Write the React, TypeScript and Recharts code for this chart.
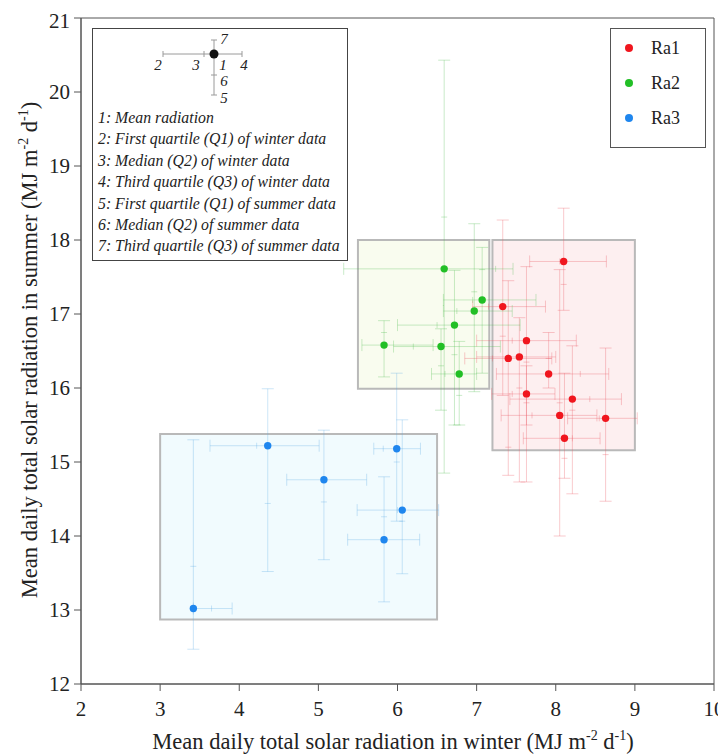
import { ScatterChart, Scatter, XAxis, YAxis, ErrorBar, ReferenceArea } from 'recharts'

// rows: [meanWinter, meanSummer, winterQ1, winterQ2, winterQ3, summerQ1, summerQ2, summerQ3]
const ra1Rows = [
  [8.10, 17.71, 7.67, 8.05, 8.64, 17.05, 17.40, 18.43],
  [7.33, 17.10, 6.95, 7.15, 7.87, 15.90, 16.70, 18.27],
  [7.63, 16.64, 7.00, 7.45, 8.26, 14.73, 16.35, 17.64],
  [7.40, 16.40, 6.85, 7.20, 7.95, 14.82, 15.20, 17.45],
  [7.54, 16.42, 7.00, 7.40, 8.00, 14.73, 16.00, 16.95],
  [7.91, 16.19, 7.25, 8.31, 8.67, 16.00, 16.40, 16.75],
  [7.63, 15.92, 7.19, 7.45, 7.99, 15.50, 15.80, 16.30],
  [8.21, 15.85, 7.42, 8.43, 8.83, 14.57, 15.70, 16.57],
  [8.05, 15.63, 7.31, 7.70, 8.52, 14.00, 15.80, 17.60],
  [8.63, 15.59, 8.15, 8.55, 9.03, 14.47, 15.10, 16.54],
  [8.11, 15.32, 7.59, 8.21, 8.56, 14.78, 15.05, 16.20],
]
const ra2Rows = [
  [6.59, 17.61, 5.32, 7.24, 7.46, 14.85, 18.31, 20.43],
  [7.07, 17.19, 6.58, 6.95, 7.75, 16.20, 17.60, 17.90],
  [6.97, 17.04, 6.58, 6.75, 7.45, 15.95, 17.30, 18.22],
  [6.72, 16.85, 6.00, 6.50, 7.55, 15.50, 16.45, 17.59],
  [5.83, 16.58, 5.55, 5.82, 6.45, 16.15, 16.75, 16.91],
  [6.55, 16.56, 5.95, 6.20, 7.30, 15.70, 16.30, 16.80],
  [6.78, 16.19, 6.43, 6.60, 7.00, 15.50, 15.90, 16.63],
]
const ra3Rows = [
  [3.42, 13.02, 3.42, 3.65, 3.91, 12.47, 13.59, 15.30],
  [4.36, 15.22, 3.63, 4.22, 5.01, 13.52, 14.44, 15.99],
  [5.07, 14.76, 4.60, 5.05, 5.61, 13.68, 14.46, 15.43],
  [5.99, 15.18, 5.70, 5.82, 6.29, 14.20, 15.00, 16.20],
  [6.06, 14.35, 5.49, 6.00, 6.52, 13.49, 14.20, 15.57],
  [5.83, 13.95, 5.37, 5.80, 6.28, 13.11, 14.26, 14.80],
]

const seriesNames = ['Ra1', 'Ra2', 'Ra3']
const dotColors = ['#f0161e', '#22bf26', '#1f86ee']
const barColors = ['rgba(236,90,100,0.32)', 'rgba(80,190,80,0.3)', 'rgba(90,170,230,0.3)']

// cluster boxes: [x1, x2, y1, y2]
const boxes = [
  [7.2, 9.0, 15.16, 18.0],
  [5.5, 7.16, 15.99, 18.0],
  [3.0, 6.5, 12.87, 15.38],
]
const boxFills = ['#fdeff0', '#f9fcef', '#f1fbfe']

const xTicks = [2, 3, 4, 5, 6, 7, 8, 9, 10]
const yTicks = [12, 13, 14, 15, 16, 17, 18, 19, 20, 21]

const keyLines = [
  '1: Mean radiation',
  '2: First quartile (Q1) of winter data',
  '3: Median (Q2) of winter data',
  '4: Third quartile (Q3) of winter data',
  '5: First quartile (Q1) of summer data',
  '6: Median (Q2) of summer data',
  '7: Third quartile (Q3) of summer data',
]

const FONT = 'Liberation Serif, serif'

const allRows = [ra1Rows, ra2Rows, ra3Rows]

const points = (rows: number[][]) =>
  rows.map(([mx, my, w1, , w3, s1, , s3]) => ({
    x: mx, y: my, ex: [mx - w1, w3 - mx], ey: [my - s1, s3 - my],
  }))
const winterMedians = (rows: number[][]) => rows.map((r) => ({ x: r[3], y: r[1] }))
const summerMedians = (rows: number[][]) => rows.map((r) => ({ x: r[0], y: r[6] }))

const tickStyle = { fontSize: 21, fill: '#222', fontFamily: FONT }

function KeyBox() {
  const g = '#9a9a9a'
  const num = { fontSize: 15, fontStyle: 'italic', fontFamily: FONT, fill: '#222' } as const
  return (
    <div style={{
      position: 'absolute', left: 84, top: 20, width: 254, height: 231,
      border: '1px solid #444', background: '#fff', fontFamily: FONT,
    }}>
      <svg width={254} height={80} style={{ position: 'absolute', left: 0, top: 0 }}>
        <line x1={70} x2={149} y1={25} y2={25} stroke={g} />
        <line x1={70} x2={70} y1={22} y2={28} stroke={g} />
        <line x1={149} x2={149} y1={22} y2={28} stroke={g} />
        <line x1={111} x2={111} y1={22} y2={28} stroke={g} />
        <line x1={121} x2={121} y1={11} y2={66} stroke={g} />
        <line x1={118} x2={124} y1={11} y2={11} stroke={g} />
        <line x1={118} x2={124} y1={66} y2={66} stroke={g} />
        <line x1={118} x2={124} y1={46} y2={46} stroke={g} />
        <circle cx={121} cy={25} r={4.5} fill="#111" />
        <text x={131} y={15} textAnchor="middle" {...num}>7</text>
        <text x={65} y={41} textAnchor="middle" {...num}>2</text>
        <text x={103} y={41} textAnchor="middle" {...num}>3</text>
        <text x={130} y={41} textAnchor="middle" {...num}>1</text>
        <text x={151} y={41} textAnchor="middle" {...num}>4</text>
        <text x={131} y={57} textAnchor="middle" {...num}>6</text>
        <text x={131} y={74} textAnchor="middle" {...num}>5</text>
      </svg>
      {keyLines.map((t, i) => (
        <div key={i} style={{
          position: 'absolute', left: 5, top: 80 + i * 21.4, fontSize: 15.8,
          fontStyle: 'italic', color: '#222', whiteSpace: 'nowrap', lineHeight: '18px',
        }}>{t}</div>
      ))}
    </div>
  )
}

function LegendBox() {
  return (
    <div style={{
      position: 'absolute', left: 602, top: 20, width: 94, height: 118,
      border: '1px solid #555', background: '#fff', fontFamily: FONT,
    }}>
      {seriesNames.map((n, i) => (
        <div key={n} style={{ position: 'absolute', left: 0, top: 9 + i * 35, height: 20, display: 'flex', alignItems: 'center' }}>
          <span style={{ display: 'inline-block', width: 8, height: 8, borderRadius: 4, background: dotColors[i], marginLeft: 14 }} />
          <span style={{ marginLeft: 18, fontSize: 18, color: '#222' }}>{n}</span>
        </div>
      ))}
    </div>
  )
}

const supStyle = { fontSize: 14 }

export default function App() {
  return (
    <div style={{ position: 'relative', width: 718, height: 746, fontFamily: FONT }}>
      <ScatterChart width={718} height={746} margin={{ top: 10, right: 12, left: 23, bottom: 40 }}>
        {boxes.map(([x1, x2, y1, y2], i) => (
          <ReferenceArea key={'b' + i} x1={x1} x2={x2} y1={y1} y2={y2}
            fill={boxFills[i]} fillOpacity={1} stroke="#b9b9b9" strokeWidth={2} />
        ))}
        <ReferenceArea x1={2} x2={10} y1={12} y2={21} fill="none" stroke="#555" strokeWidth={1} />
        <XAxis type="number" dataKey="x" domain={[2, 10]} ticks={xTicks} allowDataOverflow
          tick={tickStyle} tickSize={7} tickMargin={10} stroke="#555" height={30} />
        <YAxis type="number" dataKey="y" domain={[12, 21]} ticks={yTicks} allowDataOverflow
          tick={tickStyle} tickSize={7} tickMargin={4} stroke="#555" width={50} />
        {allRows.map((rows, i) => (
          <Scatter key={'w' + i} data={winterMedians(rows)} isAnimationActive={false}
            shape={(p: any) => <line x1={p.cx} x2={p.cx} y1={p.cy - 3} y2={p.cy + 3} stroke={barColors[i]} />} />
        ))}
        {allRows.map((rows, i) => (
          <Scatter key={'s' + i} data={summerMedians(rows)} isAnimationActive={false}
            shape={(p: any) => <line x1={p.cx - 3} x2={p.cx + 3} y1={p.cy} y2={p.cy} stroke={barColors[i]} />} />
        ))}
        {allRows.map((rows, i) => (
          <Scatter key={seriesNames[i]} name={seriesNames[i]} data={points(rows)} isAnimationActive={false}
            shape={(p: any) => <circle cx={p.cx} cy={p.cy} r={3.7} fill={dotColors[i]} />}>
            <ErrorBar dataKey="ex" direction="x" width={6} stroke={barColors[i]} strokeWidth={1} isAnimationActive={false} />
            <ErrorBar dataKey="ey" direction="y" width={6} stroke={barColors[i]} strokeWidth={1} isAnimationActive={false} />
          </Scatter>
        ))}
      </ScatterChart>
      <KeyBox />
      <LegendBox />
      <div style={{
        position: 'absolute', left: 385, top: 731, transform: 'translate(-50%, -50%)',
        fontSize: 22.5, color: '#222', whiteSpace: 'nowrap', lineHeight: '26px',
      }}>
        Mean daily total solar radiation in winter (MJ m<sup style={supStyle}>-2</sup> d<sup style={supStyle}>-1</sup>)
      </div>
      <div style={{
        position: 'absolute', left: 19, top: 342, transform: 'translate(-50%, -50%) rotate(-90deg)',
        fontSize: 22.5, color: '#222', whiteSpace: 'nowrap', lineHeight: '26px',
      }}>
        Mean daily total solar radiation in summer (MJ m<sup style={supStyle}>-2</sup> d<sup style={supStyle}>-1</sup>)
      </div>
    </div>
  )
}
